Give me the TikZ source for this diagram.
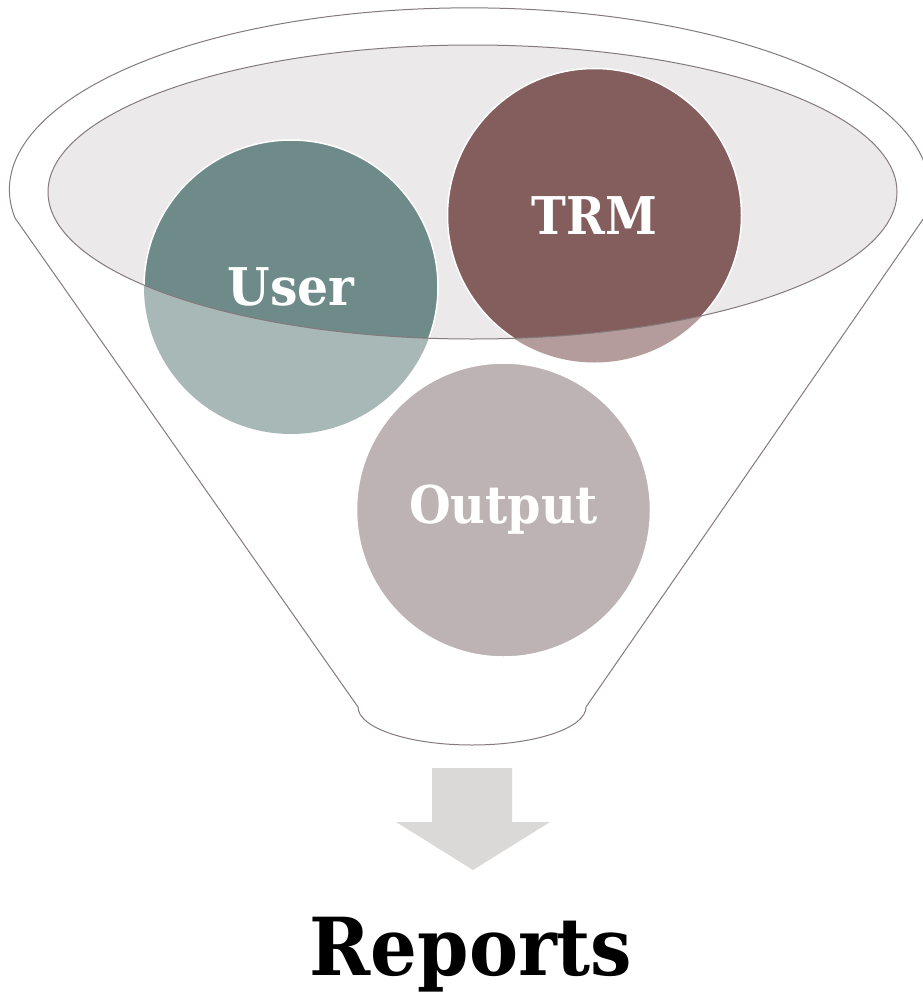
\documentclass[tikz,border=0pt]{standalone}
\usepackage{fontspec}
\setmainfont{DejaVu Serif}
\definecolor{rimline}{HTML}{857A7B}
\definecolor{ellfill}{HTML}{ECE9EA}
\definecolor{userdark}{HTML}{6F8B89}
\definecolor{userlight}{HTML}{A8B8B7}
\definecolor{trmdark}{HTML}{845D5D}
\definecolor{trmlight}{HTML}{B49B9C}
\definecolor{outfill}{HTML}{BDB3B4}
\definecolor{arrowfill}{HTML}{DAD9D8}
\tikzset{
  ball/.style={circle, minimum size=294pt, inner sep=0pt, outer sep=0pt},
  balltext/.style={text=white, font=\bfseries\fontsize{52}{60}\selectfont, inner sep=0pt},
  rim/.style={draw=rimline, line width=1pt},
}
\begin{document}
\begin{tikzpicture}[x=1pt,y=-1pt]
\clip (0,0) rectangle (923,996);
% outer funnel
\draw[rim, fill=white] (15,218) arc[start angle=171.1, end angle=368.9, x radius=460, y radius=182]
  -- (586,707) arc[start angle=0, end angle=180, x radius=114, y radius=38] -- cycle;
% inner ellipse fill
\fill[ellfill] (472.5,192) ellipse[x radius=424.5, y radius=147];
% circles (light, outside ellipse)
\node[ball, fill=userlight] (user) at (291,287) {};
\node[ball, fill=trmlight] (trm) at (594.5,215.5) {};
\node[ball, fill=outfill, draw=white, line width=1.5pt] (output) at (503.5,510) {};
% dark parts inside ellipse
\begin{scope}
  \clip (472.5,192) ellipse[x radius=424.5, y radius=147];
  \node[ball, fill=userdark, draw=white, line width=1.5pt] at (user) {};
  \node[ball, fill=trmdark, draw=white, line width=1.5pt] at (trm) {};
\end{scope}
% inner ellipse outline
\draw[rim] (472.5,192) ellipse[x radius=424.5, y radius=147];
% labels
\node[balltext] (usertxt) at (user) {\scalebox{0.94}[1]{User}};
\node[balltext] (trmtxt) at (trm) {\scalebox{0.9}[1]{TRM}};
\node[balltext] (outtxt) at (output) {\scalebox{0.92}[1]{Output}};
% arrow
\fill[arrowfill] (432,768) -- (512,768) -- (512,822) -- (550,822) -- (473,870) -- (396,822) -- (432,822) -- cycle;
% Reports
\node[anchor=base, font=\bfseries\fontsize{80}{90}\selectfont, inner sep=0pt] (reports) at (471,975) {\scalebox{0.92}[1]{Reports}};
\end{tikzpicture}
\end{document}
